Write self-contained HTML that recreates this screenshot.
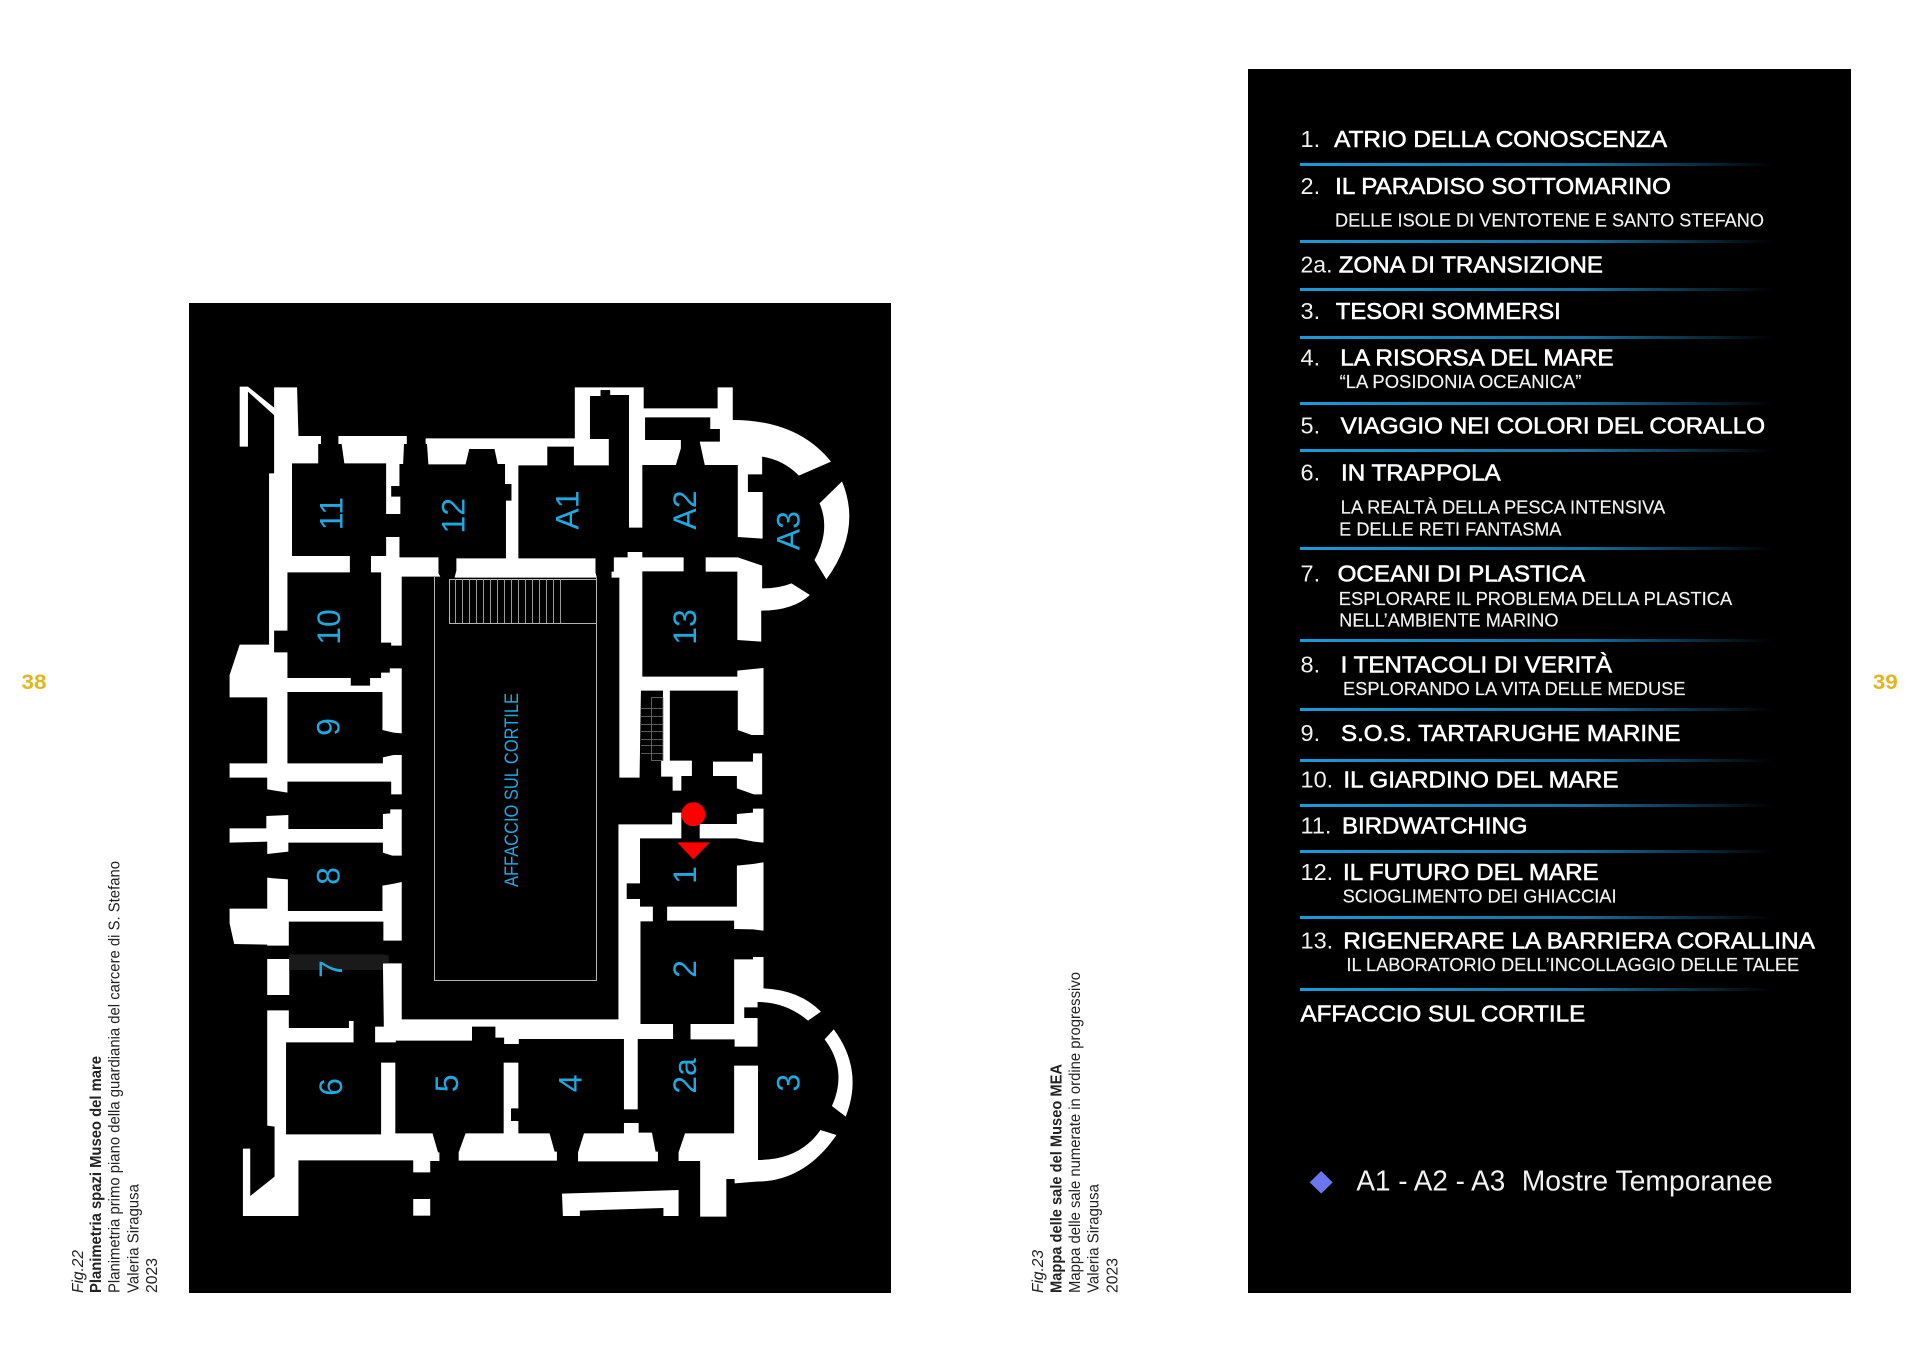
<!DOCTYPE html>
<html lang="it"><head><meta charset="utf-8"><title>Mappa Museo</title>
<style>
html,body{margin:0;padding:0;background:#fff;width:1920px;height:1362px;overflow:hidden}
svg{display:block;font-family:"Liberation Sans",Arial,sans-serif}
.t{font-size:23.5px;fill:#fff;stroke:#fff;stroke-width:.6px}
.n{font-size:23.5px;fill:#f0f0f0}
.s{font-size:18px;fill:#f2f2f2;stroke:#f2f2f2;stroke-width:.15px}
.r{font-size:32px;fill:#1fa9e1;text-anchor:middle}
.c{font-size:15.5px;fill:#222}
</style></head><body>
<svg width="1920" height="1362" viewBox="0 0 1920 1362" xmlns="http://www.w3.org/2000/svg">
<defs><linearGradient id="g" x1="0" x2="1" y1="0" y2="0"><stop offset="0" stop-color="#1a9bdc"/><stop offset=".6" stop-color="#14709f"/><stop offset="1" stop-color="#000"/></linearGradient></defs>
<rect width="1920" height="1362" fill="#fff"/>
<rect x="189" y="303" width="702" height="990" fill="#000"/>
<rect x="1248" y="69" width="603" height="1224" fill="#000"/>

<g transform="translate(180,300) scale(.4591,.33333)" fill="#fff">
<polygon points="130,260 148,260 207,325 207,348 148,275 148,440 130,440"/>
<polygon points="205,262 205,520 194,520 194,1034 130,1034 108,1125 108,1192 190,1192 190,1390 108,1390 108,1433 190,1433 190,1468 234,1478 234,1445 460,1445 460,1483 483,1483 483,1365 465,1365 442,1372 442,1390 234,1390 234,1176 441,1176 441,1290 465,1298 483,1300 483,1105 457,1105 457,1118 438,1118 438,1134 414,1134 414,1157 372,1157 372,1134 234,1134 234,1057 205,1057 205,992 234,992 234,817 370,817 370,768 244,768 244,490 301,490 301,432 307,432 307,408 258,408 255,262"/>
<polygon points="345,408 494,408 494,432 488,432 486,492 478,492 478,558 460,558 460,590 480,590 480,642 449,642 449,490 358,490 352,432 345,432"/>
<path d="M535,415 L860,415 860,262 1010,262 1010,325 1171,325 1171,262 1204,262 1204,360 Q1345,360 1418,485 L1348,527 Q1315,480 1268,470 L1268,523 1237,523 1237,576 1269,576 1269,716 1215,711 1215,495 1143,495 1132,425 1176,425 1176,387 1155,387 1155,352 1013,352 1013,420 1091,420 1091,445 1080,495 1007,495 1007,683 978,683 978,285 937,285 937,270 916,270 916,288 893,288 893,417 934,417 934,496 858,496 858,440 800,440 800,496 737,496 737,775 905,775 905,818 908,833 598,833 602,812 602,775 710,775 710,602 722,602 722,552 708,552 708,492 692,492 685,447 630,447 622,493 541,493 538,432 535,432Z"/>
<polygon points="416,768 449,768 449,711 478,711 478,772 563,772 563,820 567,830 483,830 483,1037 460,1037 460,1028 438,1028 438,817 416,817"/>
<polygon points="945,772 975,772 975,756 1007,756 1007,772 1097,772 1097,814 1007,814 1007,1130 1214,1130 1214,1112 1271,1104 1271,1305 1245,1305 1215,1290 1215,1172 1067,1172 1067,1382 1115,1382 1115,1428 1092,1428 1092,1472 1073,1472 1073,1430 1048,1430 1048,1382 1052,1382 1052,1172 1004,1172 1001,1433 957,1433 957,833 940,833 940,815 945,815"/>
<path d="M1145,772 L1215,772 1268,797 1268,865 Q1305,865 1332,850 L1372,885 Q1335,932 1266,932 L1266,1025 1214,1020 1214,815 1145,815Z"/>
<path d="M1442,544 Q1486,690 1408,838 L1382,780 Q1418,690 1393,610Z"/>
<polygon points="1161,1385 1248,1385 1248,1360 1268,1360 1268,1483 1250,1483 1213,1465 1213,1428 1161,1428"/>
</g>

<g transform="translate(180,800) scale(.4591,.33333)" fill="#fff">
<polygon points="108,85 188,85 188,48 236,45 236,87 442,87 442,42 458,40 458,28 483,28 483,167 462,167 442,158 442,128 236,128 236,155 190,162 190,125 108,128"/>
<polygon points="190,233 205,235 235,238 235,333 441,333 441,257 462,252 483,246 483,422 443,422 443,365 237,365 237,437 190,437 190,434 118,432 108,370 108,326 190,326"/>
<rect x="190" y="477" width="48" height="108"/>
<polygon points="190,631 237,631 237,684 368,684 368,663 378,663 378,727 231,727 231,1003 438,1003 438,788 469,788 469,1000 550,1000 562,1057 565,1057 565,1083 545,1083 545,1117 508,1117 508,1081 258,1081 258,1248 137,1248 137,1046 153,1046 153,1188 206,1130 206,980 190,977"/>
<rect x="508" y="1197" width="37" height="50"/>
<polygon points="442,490 483,490 483,658 955,658 955,73 1072,73 1072,38 1092,38 1092,115 1002,115 1002,250 973,250 973,297 1002,297 1002,320 1030,320 1030,364 1003,364 1003,672 1074,672 1074,717 997,717 997,928 967,928 967,717 738,717 738,732 706,732 706,713 687,713 687,680 636,680 636,722 470,722 470,727 425,727 425,680 444,680"/>
<polygon points="1132,72 1213,72 1213,42 1248,38 1248,26 1271,26 1271,128 1250,125 1213,115 1132,115"/>
<polygon points="1061,320 1213,320 1213,197 1248,192 1271,187 1271,392 1248,388 1207,387 1207,362 1061,362"/>
<path d="M1207,478 L1248,478 1248,471 1271,471 1271,565 Q1350,570 1396,635 L1368,662 Q1320,606 1258,606 L1258,622 1229,622 1229,654 1258,654 1258,740 1208,740 1208,718 1112,718 1112,672 1207,672Z"/>
<path d="M1424,688 Q1490,810 1450,950 L1420,918 Q1455,810 1404,718Z"/>
<path d="M1207,797 L1259,797 1259,1080 Q1350,1080 1395,990 L1430,1005 Q1360,1145 1255,1145 L1208,1150 1208,1137 1190,1137 1190,1250 1133,1250 1133,1083 1086,1083 1086,1057 1100,1000 1207,1000Z"/>
<polygon points="705,788 737,788 737,925 721,925 721,963 737,963 737,1000 805,1000 816,1055 821,1055 821,1082 607,1082 607,1057 622,1000 705,1000"/>
<polygon points="967,969 999,969 999,998 1028,998 1036,1055 1041,1055 1041,1084 867,1084 867,1057 880,1000 967,1000"/>
<polygon points="832,1181 1086,1170 1086,1248 1053,1248 1053,1224 871,1232 871,1248 834,1248"/>
<polygon points="238,463 442,463 455,467 455,490 442,490 442,510 238,510" fill="#1a1a1a"/>
<polygon points="1083,127 1154,127 1118,178" fill="#f00"/>
</g>
<circle cx="693.3" cy="814.3" r="12" fill="#f00"/>

<!-- courtyard + stairs -->
<g fill="none" stroke="#b4b4b4" stroke-width="1">
<path d="M434.500 577V980.500H596.500V578"/>
<rect x="449.500" y="579.500" width="147" height="44"/>
<path stroke="#9a9a9a" d="M455.500 579V623M462.500 579V623M469.500 579V623M476.500 579V623M483.500 579V623M490.500 579V623M497.500 579V623M504.500 579V623M511.500 579V623M518.500 579V623M525.500 579V623M532.500 579V623M539.500 579V623M546.500 579V623M553.500 579V623M560.500 579V623"/>
<g stroke="#777" stroke-width=".8">
<rect x="651.500" y="697.500" width="11.500" height="63"/>
<path d="M641 708.500H663M641 716.500H663M641 724.500H663M641 731.500H663M641 739.500H663M641 745.500H663M641 753.500H663"/>
</g>
</g>

<!-- room labels -->
<g class="rooms">
<text class="r" transform="translate(331.100,513.700) rotate(-90)" y="11.200">11</text>
<text class="r" transform="translate(453.200,515.700) rotate(-90)" y="11.200">12</text>
<text class="r" transform="translate(567.500,510) rotate(-90)" y="11.200">A1</text>
<text class="r" transform="translate(685,510) rotate(-90)" y="11.200">A2</text>
<text class="r" transform="translate(788.300,530.700) rotate(-90)" y="11.200">A3</text>
<text class="r" transform="translate(328.800,627) rotate(-90)" y="11.200">10</text>
<text class="r" transform="translate(685,627) rotate(-90)" y="11.200">13</text>
<text class="r" transform="translate(328.300,727) rotate(-90)" y="11.200">9</text>
<text class="r" transform="translate(328.300,876) rotate(-90)" y="11.200">8</text>
<text class="r" transform="translate(685,875) rotate(-90)" y="11.200">1</text>
<text class="r" transform="translate(330.600,969) rotate(-90)" y="11.200">7</text>
<text class="r" transform="translate(685,969) rotate(-90)" y="11.200">2</text>
<text class="r" transform="translate(330.600,1087) rotate(-90)" y="11.200">6</text>
<text class="r" transform="translate(446.800,1083.300) rotate(-90)" y="11.200">5</text>
<text class="r" transform="translate(570.300,1083.300) rotate(-90)" y="11.200">4</text>
<text class="r" transform="translate(685,1076) rotate(-90)" y="11.200">2a</text>
<text class="r" transform="translate(788.300,1082.700) rotate(-90)" y="11.200">3</text>
<text transform="translate(518,887) rotate(-90)" font-size="19" fill="#1fa9e1" textLength="194" lengthAdjust="spacingAndGlyphs">AFFACCIO SUL CORTILE</text>
</g>

<!-- page numbers -->
<text x="21.500" y="689" font-size="21.500" font-weight="700" fill="#e3b51f" textLength="25" lengthAdjust="spacingAndGlyphs">38</text>
<text x="1872.800" y="689" font-size="21.500" font-weight="700" fill="#e3b51f" textLength="25" lengthAdjust="spacingAndGlyphs">39</text>

<!-- captions -->
<g class="caps">
<text class="c" transform="translate(83,1293) rotate(-90)" font-style="italic" textLength="43" lengthAdjust="spacingAndGlyphs">Fig.22</text>
<text class="c" transform="translate(101,1293) rotate(-90)" font-weight="700" textLength="237" lengthAdjust="spacingAndGlyphs">Planimetria spazi Museo del mare</text>
<text class="c" transform="translate(119.500,1293) rotate(-90)" textLength="432" lengthAdjust="spacingAndGlyphs">Planimetria primo piano della guardiania del carcere di S. Stefano</text>
<text class="c" transform="translate(138.500,1293) rotate(-90)" textLength="109" lengthAdjust="spacingAndGlyphs">Valeria Siragusa</text>
<text class="c" transform="translate(157,1293) rotate(-90)" textLength="35" lengthAdjust="spacingAndGlyphs">2023</text>
<text class="c" transform="translate(1043,1293) rotate(-90)" font-style="italic" textLength="43" lengthAdjust="spacingAndGlyphs">Fig.23</text>
<text class="c" transform="translate(1061.400,1293) rotate(-90)" font-weight="700" textLength="229" lengthAdjust="spacingAndGlyphs">Mappa delle sale del Museo MEA</text>
<text class="c" transform="translate(1079.800,1293) rotate(-90)" textLength="321" lengthAdjust="spacingAndGlyphs">Mappa delle sale numerate in ordine progressivo</text>
<text class="c" transform="translate(1098.700,1293) rotate(-90)" textLength="109" lengthAdjust="spacingAndGlyphs">Valeria Siragusa</text>
<text class="c" transform="translate(1117.300,1293) rotate(-90)" textLength="35" lengthAdjust="spacingAndGlyphs">2023</text>
</g>

<!-- divider lines -->
<g fill="url(#g)">
<rect x="1300" y="163" width="474" height="3"/>
<rect x="1300" y="240" width="474" height="3"/>
<rect x="1300" y="288" width="474" height="3"/>
<rect x="1300" y="336" width="474" height="3"/>
<rect x="1300" y="402" width="474" height="3"/>
<rect x="1300" y="449" width="474" height="3"/>
<rect x="1300" y="547" width="474" height="3"/>
<rect x="1300" y="639" width="474" height="3"/>
<rect x="1300" y="708" width="474" height="3"/>
<rect x="1300" y="759" width="474" height="3"/>
<rect x="1300" y="804" width="474" height="3"/>
<rect x="1300" y="850" width="474" height="3"/>
<rect x="1300" y="916" width="474" height="3"/>
<rect x="1300" y="988" width="474" height="3"/>
</g>

<!-- numbers -->
<text class="n" x="1300.500" y="147">1.</text>
<text class="n" x="1300.500" y="194">2.</text>
<text class="n" x="1300.500" y="272.700" textLength="32" lengthAdjust="spacingAndGlyphs">2a.</text>
<text class="n" x="1300.500" y="319">3.</text>
<text class="n" x="1300.500" y="365.700">4.</text>
<text class="n" x="1300.500" y="433.700">5.</text>
<text class="n" x="1300.500" y="480.300">6.</text>
<text class="n" x="1300.500" y="581.700">7.</text>
<text class="n" x="1300.500" y="672.700">8.</text>
<text class="n" x="1300.500" y="740.800">9.</text>
<text class="n" x="1300.500" y="787.300">10.</text>
<text class="n" x="1300.500" y="833.500">11.</text>
<text class="n" x="1300.500" y="880">12.</text>
<text class="n" x="1300.500" y="948.600">13.</text>

<!-- titles -->
<text class="t" x="1334.200" y="147" textLength="332.900" lengthAdjust="spacingAndGlyphs">ATRIO DELLA CONOSCENZA</text>
<text class="t" x="1335.200" y="194" textLength="335.800" lengthAdjust="spacingAndGlyphs">IL PARADISO SOTTOMARINO</text>
<text class="s" x="1335" y="226.700" textLength="429" lengthAdjust="spacingAndGlyphs">DELLE ISOLE DI VENTOTENE E SANTO STEFANO</text>
<text class="t" x="1338.800" y="272.700" textLength="264.100" lengthAdjust="spacingAndGlyphs">ZONA DI TRANSIZIONE</text>
<text class="t" x="1335.800" y="319" textLength="225" lengthAdjust="spacingAndGlyphs">TESORI SOMMERSI</text>
<text class="t" x="1340.300" y="365.700" textLength="273.300" lengthAdjust="spacingAndGlyphs">LA RISORSA DEL MARE</text>
<text class="s" x="1339.600" y="388" textLength="241.800" lengthAdjust="spacingAndGlyphs">“LA POSIDONIA OCEANICA”</text>
<text class="t" x="1340.700" y="433.700" textLength="424.400" lengthAdjust="spacingAndGlyphs">VIAGGIO NEI COLORI DEL CORALLO</text>
<text class="t" x="1341" y="480.300" textLength="159.700" lengthAdjust="spacingAndGlyphs">IN TRAPPOLA</text>
<text class="s" x="1340.700" y="513.700" textLength="324.500" lengthAdjust="spacingAndGlyphs">LA REALTÀ DELLA PESCA INTENSIVA</text>
<text class="s" x="1339.200" y="535.300" textLength="222.300" lengthAdjust="spacingAndGlyphs">E DELLE RETI FANTASMA</text>
<text class="t" x="1337.600" y="581.700" textLength="247.600" lengthAdjust="spacingAndGlyphs">OCEANI DI PLASTICA</text>
<text class="s" x="1338.800" y="605" textLength="393.400" lengthAdjust="spacingAndGlyphs">ESPLORARE IL PROBLEMA DELLA PLASTICA</text>
<text class="s" x="1339.200" y="626.500" textLength="219.300" lengthAdjust="spacingAndGlyphs">NELL’AMBIENTE MARINO</text>
<text class="t" x="1340.600" y="672.700" textLength="271.400" lengthAdjust="spacingAndGlyphs">I TENTACOLI DI VERITÀ</text>
<text class="s" x="1343" y="695.100" textLength="342.500" lengthAdjust="spacingAndGlyphs">ESPLORANDO LA VITA DELLE MEDUSE</text>
<text class="t" x="1341" y="740.800" textLength="339.500" lengthAdjust="spacingAndGlyphs">S.O.S. TARTARUGHE MARINE</text>
<text class="t" x="1343.400" y="787.300" textLength="275.100" lengthAdjust="spacingAndGlyphs">IL GIARDINO DEL MARE</text>
<text class="t" x="1342" y="833.500" textLength="185.500" lengthAdjust="spacingAndGlyphs">BIRDWATCHING</text>
<text class="t" x="1343" y="880" textLength="255.600" lengthAdjust="spacingAndGlyphs">IL FUTURO DEL MARE</text>
<text class="s" x="1342.600" y="902.400" textLength="274" lengthAdjust="spacingAndGlyphs">SCIOGLIMENTO DEI GHIACCIAI</text>
<text class="t" x="1343.300" y="948.600" textLength="471.600" lengthAdjust="spacingAndGlyphs">RIGENERARE LA BARRIERA CORALLINA</text>
<text class="s" x="1346.400" y="971" textLength="452.800" lengthAdjust="spacingAndGlyphs">IL LABORATORIO DELL’INCOLLAGGIO DELLE TALEE</text>
<text class="t" x="1300.500" y="1021.600" textLength="284.700" lengthAdjust="spacingAndGlyphs">AFFACCIO SUL CORTILE</text>

<!-- legend -->
<polygon points="1321.200,1171 1332.700,1182.400 1321.200,1193.600 1309.700,1182.400" fill="#6a75f0"/>
<text x="1356.400" y="1190.600" font-size="29" fill="#f2f2f2" textLength="148.900" lengthAdjust="spacingAndGlyphs">A1 - A2 - A3</text>
<text x="1521.700" y="1190.600" font-size="29" fill="#f2f2f2" textLength="251.100" lengthAdjust="spacingAndGlyphs">Mostre Temporanee</text>
</svg>
</body></html>
